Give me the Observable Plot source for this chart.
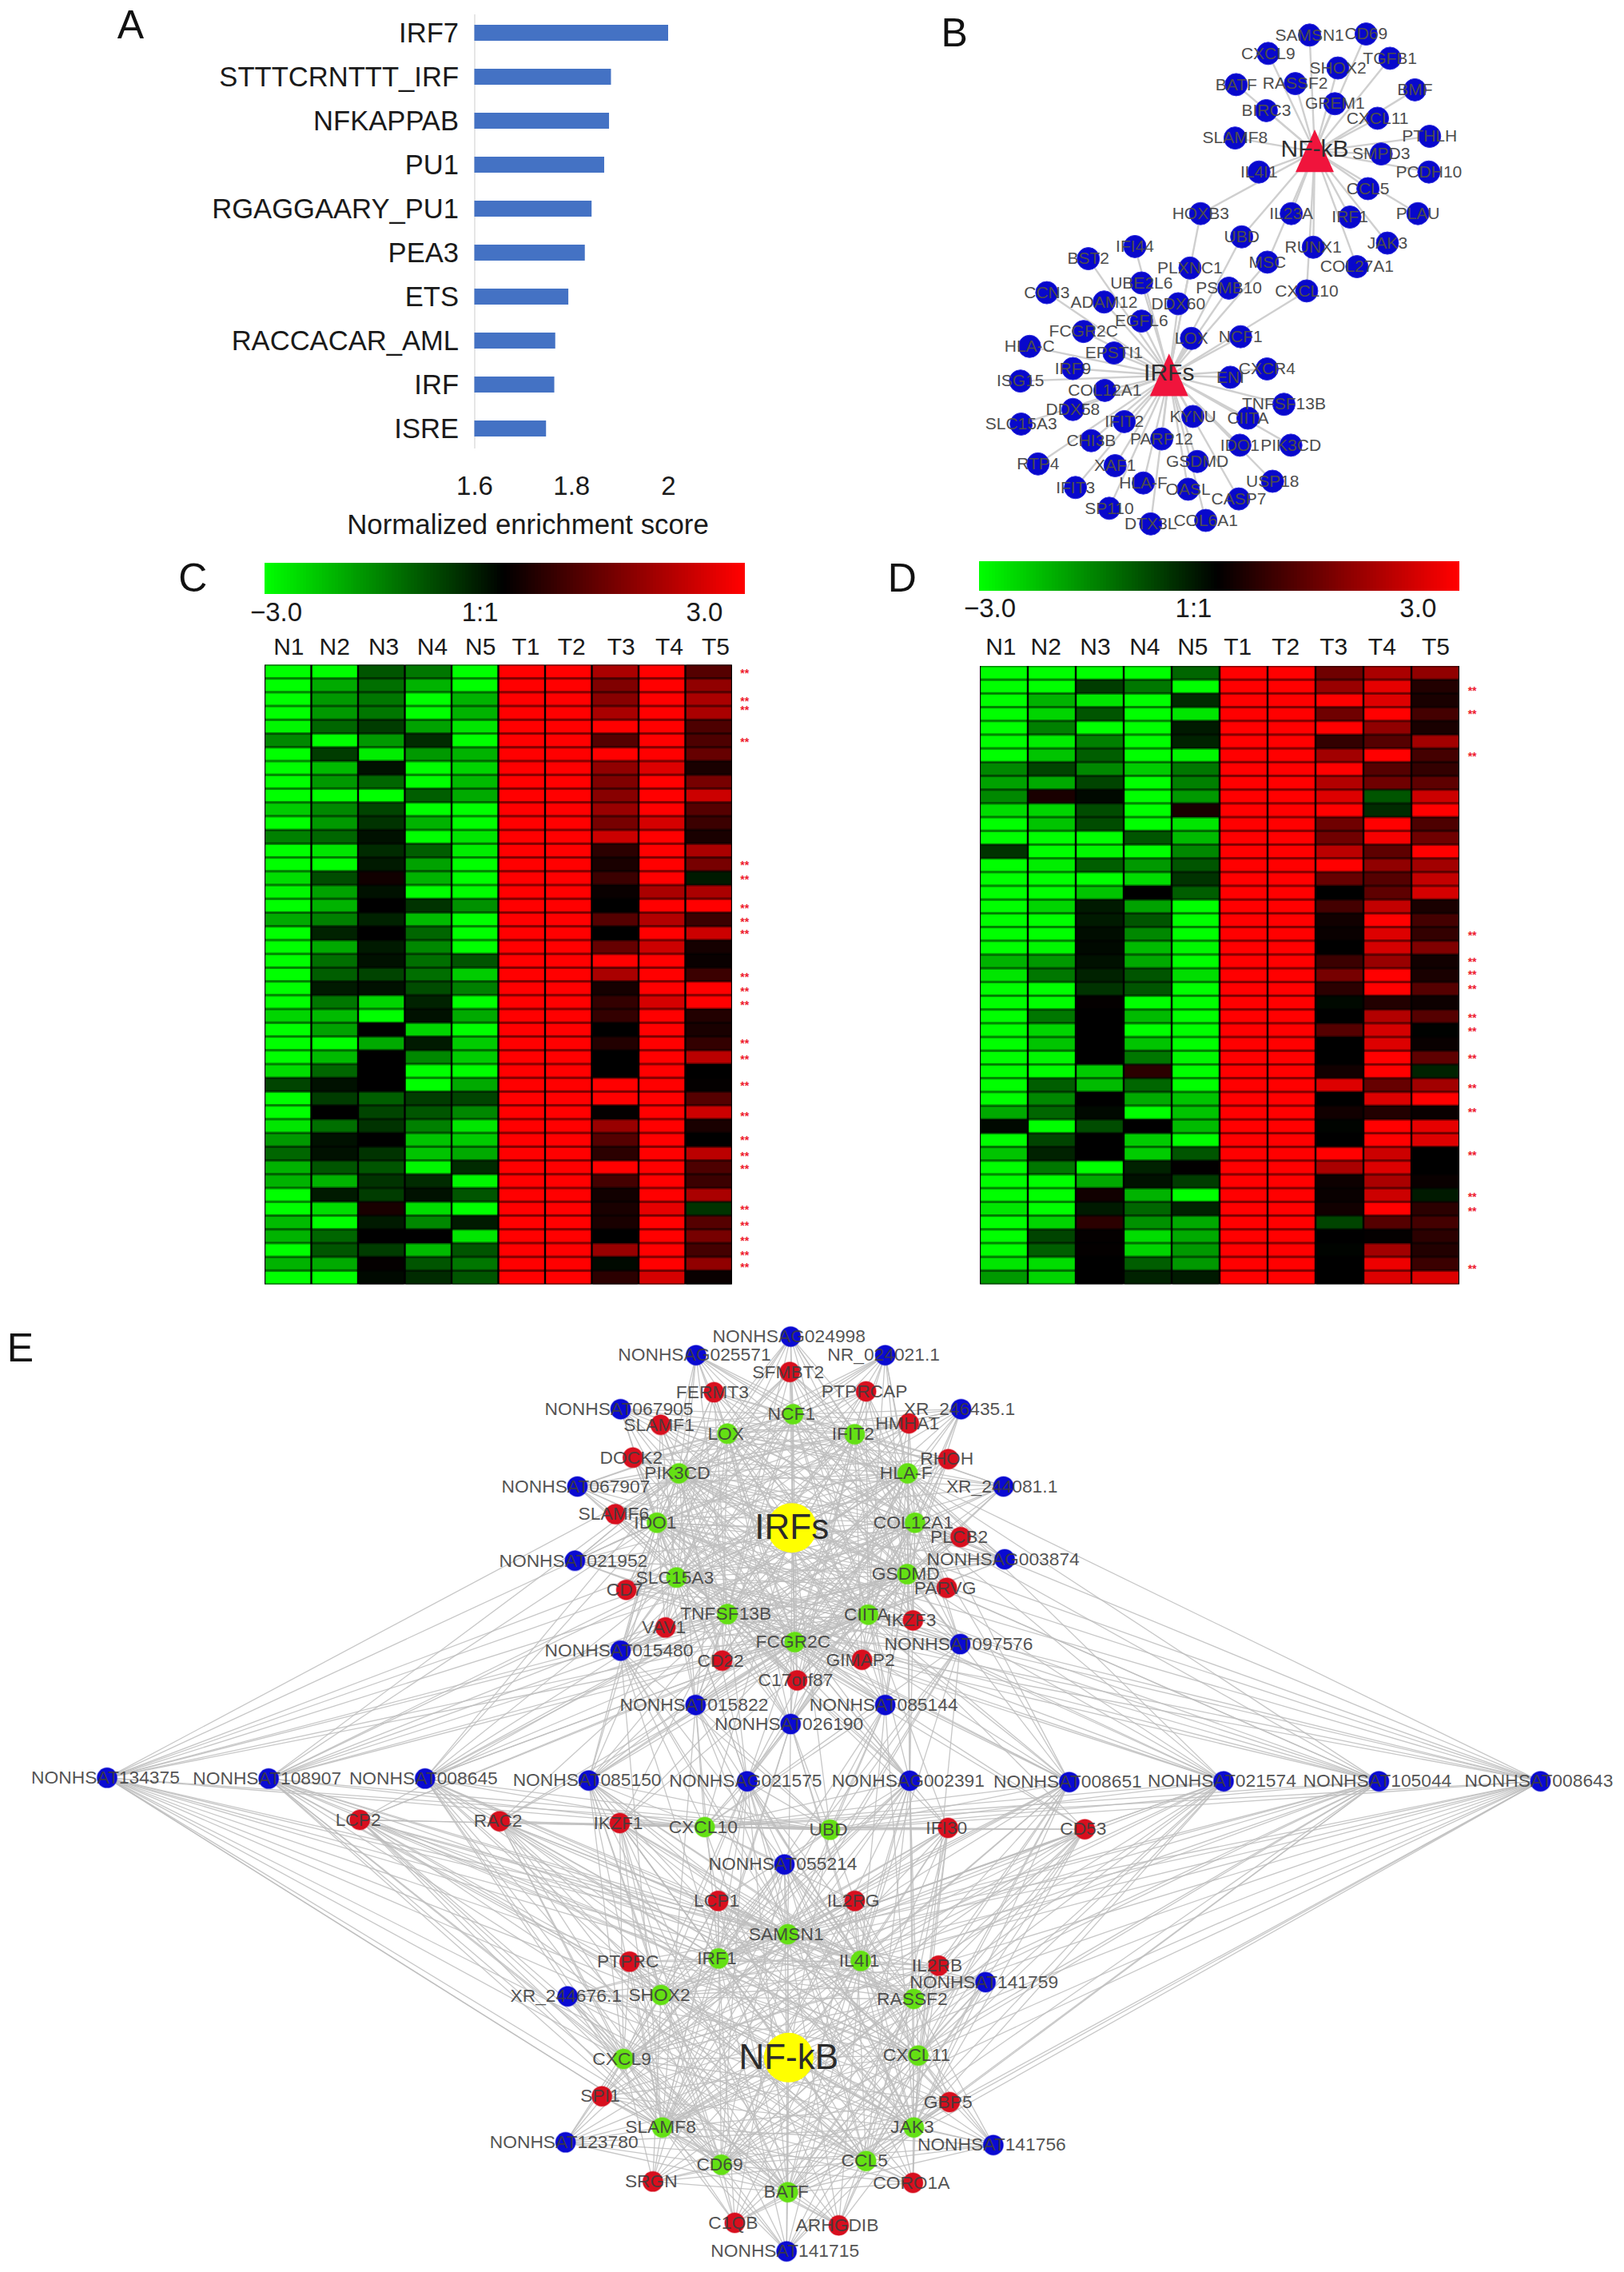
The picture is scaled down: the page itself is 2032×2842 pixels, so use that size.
<!DOCTYPE html>
<html><head><meta charset="utf-8">
<script src="https://cdn.jsdelivr.net/npm/d3@7"></script>
<script src="https://cdn.jsdelivr.net/npm/@observablehq/plot@0.6"></script>
<style>
html,body{margin:0;padding:0;background:#fff}
#page{position:relative;width:2032px;height:2842px;overflow:hidden;font-family:"Liberation Sans",Arial,sans-serif}
#page>div{position:absolute}
</style></head><body><div id="page"></div>
<script>
const FONT='"Liberation Sans",Arial,sans-serif';

// ---------- Panel A ----------
const motifs=["IRF7","STTTCRNTTT_IRF","NFKAPPAB","PU1","RGAGGAARY_PU1","PEA3","ETS","RACCACAR_AML","IRF","ISRE"];
const nes=[2.0,1.882,1.878,1.868,1.842,1.828,1.794,1.767,1.765,1.748];
const nesTicks=[1.6,1.8,2];

// ---------- Panel B (layout, crop units) ----------
const bNfkbOnly=[["SAMSN1",1063,100],["CD69",1217,97],["CXCL9",950,153],["SHOX2",1140,195],["TGFB1",1282,167],["BATF",863,243],["RASSF2",1024,240],["BMF",1350,258],["GREM1",1132,298],["BIRC3",945,318],["CXCL11",1248,340],["SLAMF8",860,397],["PTHLH",1390,392],["SMPD3",1258,443],["IL4I1",925,495],["PCDH10",1388,495],["CCL5",1222,543],["PLAU",1358,615],["IRF1",1173,625],["IL23A",1013,615],["JAK3",1275,700],["RUNX1",1073,712],["COL27A1",1192,768]];
const bShared=[["HOXB3",766,615],["UBD",878,682],["MSC",948,755],["CXCL10",1055,838]];
const bIrfOnly=[["IFI44",587,710],["BST2",460,745],["PLXNC1",737,772],["UBE2L6",605,815],["PSMB10",843,830],["CCN3",347,843],["ADAM12",503,870],["DDX60",705,875],["EGFL6",605,925],["NCF1",875,970],["LOX",741,975],["FCGR2C",447,955],["HLA-C",300,998],["EPSTI1",530,1017],["IRF9",418,1062],["CXCR4",947,1063],["ENI",847,1087],["ISG15",275,1098],["COL12A1",505,1125],["TNFSF13B",993,1165],["DDX58",418,1180],["KYNU",745,1200],["CIITA",895,1205],["IFIT2",558,1215],["SLC15A3",277,1222],["CHI3B",468,1270],["PARP12",660,1265],["PIK3CD",1012,1283],["IDO1",873,1283],["RTP4",323,1337],["XAF1",533,1342],["GSDMD",757,1330],["USP18",962,1387],["HLA-F",610,1392],["IFIT3",425,1405],["OASL",732,1410],["CASP7",870,1438],["SP110",517,1465],["COL6A1",780,1500],["DTX3L",630,1510]];
const bHubs=[["NF-kB",1077,436],["IRFs",680,1082]];

// ---------- Panels C, D: N1..N5,T1..T5 per row ----------
const samples=["N1","N2","N3","N4","N5","T1","T2","T3","T4","T5"];
const cRows=[
[-3,-3,-1,-1.4,-3,3,3,2,3,1],[-3,-2,-1.3,-2.1,-3,3,3,1.5,3,1.7],[-3,-1.8,-1.4,-3,-2.1,3,3,1.6,3,2],[-3,-1.8,-1.4,-3,-2.1,3,3,2,3,2],[-2.9,-1.2,-.7,-1.9,-2.7,3,3,3,3,.9],
[-1.6,-3,-1.8,-.5,-3,3,3,1,3,.9],[-3,-.7,-2.8,-1.8,-2.1,3,3,3,3,1.2],[-3,-2.2,-.2,-3,-2.5,3,3,1.7,2.6,.3],[-3,-1.8,-1.2,-3,-2.2,3,3,1.5,3,1.4],[-3,-3,-3,-1.1,-2,3,3,1.6,3,2.4],
[-2.4,-1.6,-.8,-3,-3,3,3,1.8,3,1],[-3,-1.8,-.6,-2.1,-3,3,3,1.4,2.5,.7],[-1.5,-1.2,-.2,-3,-2.7,3,3,2.4,3,.3],[-3,-2.7,-.5,-1.1,-2.8,3,3,.5,3,2],[-3,-3,-.3,-1.9,-3,3,3,.3,3,1.4],
[-2.6,-.9,.2,-2.1,-3,3,3,.7,3,-.3],[-2.9,-1.9,-.2,-3,-3,3,3,.1,2,2],[-3,-2.1,0,-.6,-1.7,3,3,0,3,3],[-2,-1.5,-.4,-2.2,-3,3,3,1,2.1,.7],[-3,-.4,0,-1.2,-3,3,3,0,3,2.4],
[-3,-2,-.3,-1.6,-3,3,3,1.2,2.4,.25],[-3,-1.3,-.2,-1.3,-1,3,3,3,3,.1],[-3,-1.1,-.8,-1.3,-2.4,3,3,2,3,.7],[-3,-.3,-.2,-.9,-1.5,3,3,.25,3,3],[-3,-1.4,-2.5,-.4,-3,3,3,.6,2.5,3],
[-2.5,-2.2,-3,-.2,-2,3,3,.6,3,.4],[-3,-1.9,0,-2.5,-3,3,3,0,3,.3],[-3,-3,-2,-.3,-2.4,3,3,.4,3,.6],[-3,-2.2,0,-1.6,-2.4,3,3,0,3,2.2],[-2.6,-1.2,0,-3,-3,3,3,0,3,0],
[-.8,-.2,0,-3,-2,3,3,3,3,.05],[-3,-.7,-1.1,-.7,-.8,3,3,3,3,1],[-3,0,-.8,-1,-1.6,3,3,.05,3,2.4],[-2.7,-1.3,-.6,-1.5,-2.7,3,3,1.8,3,.3],[-1.8,-.2,0,-2.3,-2.4,3,3,1,3,0],
[-1.2,-.2,-.6,-2.3,-2,3,3,.5,3,2.2],[-2.1,-1,-1,-2.9,-.5,3,3,3,3,.9],[-2.1,-2.1,-.6,-.5,-2.9,3,3,.8,3,.7],[-3,-.3,-.7,-.2,-1,3,3,.2,3,2],[-3,-2.6,.3,-2.6,-3,3,3,.3,2.7,-.6],
[-2.2,-3,-.3,-1.6,-.3,3,3,.3,3,1],[-2.1,-1.2,0,0,-2.7,3,3,0,3,1.4],[-3,-1,-.7,-2.2,-1,3,3,1.8,3,.8],[-2.1,-2,.05,-1,-1.4,3,3,-.1,3,1.7],[-3,-3,-.1,-.5,-1,3,3,.5,2.5,.1]];
const dRows=[
[-3,-3,-3,-3,-1.2,3,3,1.3,2,1.7],[-3,-3,-.7,-1.4,-3,3,3,1.8,2.7,.4],[-3,-2.1,-2.7,-3,-.5,3,3,3,2.6,.3],[-3,-2.5,-1,-3,-2.7,3,3,1.3,3,.8],[-3,-1.5,-3,-3,-.3,3,3,3,1.7,.3],
[-3,-2.8,-1.5,-3,-.4,3,3,.6,1,1.9],[-3,-2.3,-1.1,-3,-2.9,3,3,1.9,3,.8],[-1.6,-.8,-1.6,-2.4,-1.4,3,3,3,1,.6],[-1.9,-2,-.8,-3,-1.5,3,3,2.1,1.3,1.1],[-1.6,.3,-.1,-3,-1.8,3,3,2.6,-1,2.4],
[-2.6,-2.5,-.9,-3,.3,3,3,3,-.5,3],[-3,-2.3,-.9,-3,-2.7,3,3,1.3,3,.9],[-3,-3,-3,-1,-2.2,3,3,1.3,2.9,1.3],[-.6,-3,-2.9,-3,-1.6,3,3,2.2,1.1,3],[-3,-2.8,-1.1,-1.8,-1,3,3,3,1.7,1.9],
[-3,-3,-3,-2.6,-.6,3,3,1.2,1,2.3],[-3,-3,-2.3,0,-1.1,3,3,0,1.1,2.5],[-3,-2.5,-.3,-1.9,-3,3,3,.8,2.3,.3],[-3,-3,-.3,-1,-3,3,3,.2,3,.8],[-3,-3,-.15,-1.6,-3,3,3,.1,2.6,.6],
[-3,-2.9,-.1,-2.2,-2.9,3,3,0,2.5,1.5],[-2.1,-1.8,-.2,-2,-3,3,3,.7,1.8,.2],[-2.7,-1.4,-.4,-1,-2.6,3,3,1.4,3,.3],[-3,-3,-.6,-1,-3,3,3,.5,3,1],[-3,-3,.05,-3,-3,3,3,-.1,.4,.15],
[-3,-1.4,0,-2.2,-3,3,3,0,2.1,1],[-3,-2.5,0,-3,-3,3,3,1,2.5,-.02],[-3,-2.3,0,-2.3,-3,3,3,0,2.6,.1],[-3,-2.9,0,-1.4,-2.9,3,3,0,3,1.1],[-3,-3,-2.4,.5,-3,3,3,.2,3,-.4],
[-3,-1.1,-2.2,-1.2,-3,3,3,2.6,1.2,1.9],[-3,-1.6,0,-2,-2.3,3,3,0,2.6,3],[-2,-1.2,-.1,-3,-2.3,3,3,.2,.4,.1],[-.1,-3,-.9,0,-2.2,3,3,-.05,3,2.7],[-3,-.8,0,-2.4,-3,3,3,0,3,2.6],
[-2.3,-.4,0,-2.4,-1,3,3,3,2.4,0],[-3,-1.4,-3,-.4,.02,3,3,2,2.6,0],[-3,-3,-2,-.2,-.7,3,3,.15,2,.1],[-3,-3,.2,-2.1,-3,3,3,.1,2.4,-.3],[-2.7,-3,-.3,-1.2,-.4,3,3,.2,3,.5],
[-3,-2.5,.5,-1.7,-2,3,3,-.8,1,.8],[-3,-.8,.05,-2.6,-2,3,3,0,.05,.5],[-3,-1.1,.05,-2.5,-1.8,3,3,-.05,1.9,.4],[-2.7,-2.6,0,-1.1,-1.8,3,3,0,2.8,.7],[-1.8,-2.5,0,-.4,-.3,3,3,0,2.6,2.6]];
const cStars=[.38,2.41,3.06,5.4,14.34,15.34,17.44,18.43,19.29,22.46,23.5,24.5,27.26,28.4,30.36,32.57,34.28,35.42,36.4,39.33,40.5,41.6,42.65,43.54];
const dStars=[1.6,3.28,6.35,19.35,21.27,22.23,23.27,25.37,26.37,28.36,30.46,32.25,35.35,38.4,39.44,43.64];
const cLabelPos=[.51,1.49,2.54,3.58,4.61,5.58,6.56,7.62,8.65,9.64];
const dLabelPos=[.43,1.37,2.4,3.43,4.43,5.37,6.37,7.37,8.38,9.5];
const rampLabels=["−3.0","1:1","3.0"];

// ---------- Panel E (layout, crop units) ----------
const eTopBlue=[["NONHSAG024998",860,88],["NONHSAG025571",628,153],["NR_024021.1",1092,153],["NONHSAT067905",443,342],["XR_246435.1",1278,342],["NONHSAT067907",337,613],["XR_244081.1",1382,613],["NONHSAT021952",331,873],["NONHSAG003874",1385,868],["NONHSAT015480",443,1188],["NONHSAT097576",1276,1165],["NONHSAT015822",627,1378],["NONHSAT085144",1092,1378],["NONHSAT026190",860,1445]];
const eTopRed=[["SFMBT2",858,212],["FERMT3",672,283],["PTPRCAP",1045,280],["SLAMF1",541,397],["HMHA1",1150,392],["DOCK2",473,512],["RHOH",1247,517],["SLAMF6",430,710],["PLCB2",1277,790],["CD7",457,975],["PARVG",1243,968],["VAV1",553,1107],["IKZF3",1160,1082],["CD22",692,1223],["GIMAP2",1035,1220],["C17orf87",876,1292]];
const eTopGreen=[["NCF1",866,360],["LOX",705,428],["IFIT2",1017,430],["PIK3CD",586,567],["HLA-F",1147,567],["IDO1",532,740],["COL12A1",1165,740],["SLC15A3",580,932],["GSDMD",1146,920],["TNFSF13B",705,1060],["CIITA",1050,1062],["FCGR2C",870,1158]];
const eIrfHub=[["IRFs",863,758]];
const eMidBlue=[["NONHSAT134375",103,250],["NONHSAT108907",259,253],["NONHSAT008645",410,253],["NONHSAT085150",568,260],["NONHSAG021575",721,263],["NONHSAG002391",878,261],["NONHSAT008651",1032,266],["NONHSAT021574",1181,263],["NONHSAT105044",1331,263],["NONHSAT008643",1487,263]];
const eCoreBlue=[["NONHSAT055214",757,575]];
const eMidRed=[["LCP2",347,408],["RAC2",482,413],["IKZF1",598,420],["IFI30",915,438],["CD53",1047,443]];
const eCoreRed=[["LCP1",693,712],["IL2RG",825,712]];
const eMidGreen=[["CXCL10",680,435],["UBD",801,445]];
const eBotBlue=[["NONHSAT141759",1338,477],["XR_244676.1",313,530],["NONHSAT123780",308,1078],["NONHSAT141756",1357,1088],["NONHSAT141715",850,1487]];
const eBotRed=[["PTPRC",465,400],["IL2RB",1223,415],["SPI1",397,905],["GBP5",1250,927],["SRGN",522,1225],["CORO1A",1160,1230],["C1QB",723,1380],["ARHGDIB",978,1390]];
const eBotGreen=[["SAMSN1",853,297],["IRF1",683,388],["IL4I1",1032,397],["SHOX2",542,525],["RASSF2",1162,540],["CXCL9",450,765],["CXCL11",1173,752],["SLAMF8",545,1022],["JAK3",1162,1022],["CD69",690,1162],["CCL5",1045,1148],["BATF",853,1265]];
const eNfkbHub=[["NF-kB",855,760]];

// Links between groups of nodes, by name
const eLowerTopGreen=["PIK3CD","HLA-F","IDO1","COL12A1","SLC15A3","GSDMD","TNFSF13B","CIITA","FCGR2C"];
const eInnerTopGreen=["TNFSF13B","CIITA","FCGR2C","UBD","CXCL10"];
const eLowerTopBlue=["NONHSAT015480","NONHSAT097576","NONHSAT015822","NONHSAT085144","NONHSAT026190"];
const eCentreLinks=["CXCL10","UBD","SAMSN1","IRF1","IL4I1","SLAMF8","JAK3"];

const names=a=>a.map(d=>d[0]);
function place(page,top,left,el){const w=document.createElement("div");w.style.left=left+"px";w.style.top=top+"px";w.append(el);page.append(w);}
const page=document.getElementById("page");
const baseStyle={fontFamily:FONT,background:"transparent",overflow:"visible"};

// ---------- draw A ----------
const aData=motifs.map((m,i)=>({m,v:nes[i]}));
place(page,0,0,Plot.plot({
  width:1000,height:680,marginLeft:593.5,marginRight:164,marginTop:18,marginBottom:119,
  style:baseStyle,
  x:{domain:[1.6,2]},
  y:{domain:motifs,range:[12.3,564],paddingInner:.637,paddingOuter:.3185,align:.5},
  marks:[
    Plot.ruleX([1.6],{stroke:"#e6e6e6",strokeWidth:2}),
    Plot.barX(aData,{x1:()=>1.6,x2:"v",y:"m",fill:"#4472c4"}),
    Plot.axisY({tickSize:0,tickPadding:20,fontSize:34.6,label:null,color:"#1a1a1a"}),
    Plot.axisX({ticks:nesTicks,tickSize:0,tickPadding:34,fontSize:33,label:null,tickFormat:d=>String(d),color:"#1a1a1a"}),
    Plot.text(["Normalized enrichment score"],{frameAnchor:"bottom",lineAnchor:"middle",x:()=>1.7097,dy:95,fontSize:34.8,fill:"#1a1a1a"}),
    Plot.text(["A"],{frameAnchor:"top-left",textAnchor:"middle",lineAnchor:"middle",dx:163-593.5,dy:31-18,fontSize:50,fill:"#111"})
  ]
}));

// ---------- draw B ----------
const hubN=bHubs[0],hubI=bHubs[1];
const bEdges=[
  ...bNfkbOnly.map(d=>[d,hubN]),...bShared.map(d=>[d,hubN]),
  ...bShared.map(d=>[d,hubI]),...bIrfOnly.map(d=>[d,hubI])
];
const tallTriangle={draw(ctx,size){const k=Math.sqrt(size/Math.PI);ctx.moveTo(0,-1.45*k);ctx.lineTo(1.26*k,1.35*k);ctx.lineTo(-1.26*k,1.35*k);ctx.closePath();}};
const bNodes=[...bNfkbOnly,...bShared,...bIrfOnly];
place(page,0,1150,Plot.plot({
  width:720,height:680,margin:0,style:baseStyle,
  x:{axis:null,domain:[0,1568],range:[0,720]},
  y:{axis:null,domain:[0,1568],range:[0,680]},
  marks:[
    Plot.link(bEdges,{x1:d=>d[0][1],y1:d=>d[0][2],x2:d=>d[1][1],y2:d=>d[1][2],stroke:"#cfcfcf",strokeWidth:2.4}),
    Plot.dot(bNodes,{x:d=>d[1],y:d=>d[2],r:14,fill:"#0808cc",stroke:"#2a2ae0",strokeWidth:1}),
    Plot.dot(bHubs,{x:d=>d[1],y:d=>d[2],r:19,fill:"#f0143c",symbol:()=>tallTriangle}),
    Plot.text(bNodes,{x:d=>d[1],y:d=>d[2],text:d=>d[0],fontSize:21,fill:"#4d4d4d"}),
    Plot.text(bHubs,{x:d=>d[1],y:d=>d[2],text:d=>d[0],dy:-3,fontSize:30,fill:"#2f2f2f"}),
    Plot.text(["B"],{x:()=>95,y:()=>95,fontSize:50,fill:"#111"})
  ]
}));

// ---------- draw C, D ----------
function heat(o){
  const cells=o.rows.flatMap((row,r)=>row.map((v,c)=>({c,r,v})));
  const ramp=d3.range(0,150).map(i=>({i,v:-3+6*(i+.5)/150}));
  const rw=(o.rampX1-o.rampX0)/150;
  return Plot.plot({
    width:o.w,height:o.h,margin:0,style:baseStyle,
    x:{axis:null,domain:[0,10],range:[o.x0-o.left,o.x1-o.left]},
    y:{axis:null,domain:[0,o.rows.length],range:[o.y0-o.top,o.y1-o.top]},
    color:{type:"linear",domain:[-3,0,3],range:["#00ff00","#000000","#ff0000"],clamp:true},
    marks:[
      Plot.rect(ramp,{x1:d=>o.rampX0+d.i*rw,x2:d=>o.rampX0+(d.i+2)*rw,y1:()=>o.rampY0,y2:()=>o.rampY1,fill:"v",shapeRendering:"crispEdges"}),
      Plot.rect([0],{x1:()=>0,x2:()=>10,y1:()=>0,y2:()=>o.rows.length,fill:"#000"}),
      Plot.rect(cells,{x1:"c",x2:d=>d.c+1,y1:"r",y2:d=>d.r+1,fill:"v",fillOpacity:.55,insetLeft:1.3,insetRight:1.3}),
      Plot.rect(cells,{x1:"c",x2:d=>d.c+1,y1:"r",y2:d=>d.r+1,fill:"v",insetLeft:1.3,insetRight:1.3,insetTop:1.6,insetBottom:1.6}),
      Plot.text(o.stars,{x:()=>10.26,y:d=>d,text:()=>"**",dy:4,fontSize:14,fontWeight:"bold",fill:"#ee1c2e"}),
      Plot.text(samples,{x:(d,i)=>o.labelPos[i],y:()=>o.labelY,text:d=>d,fontSize:30,fill:"#1a1a1a"}),
      Plot.text(rampLabels,{x:(d,i)=>o.rampLabelX[i],y:()=>o.rampLabelY,text:d=>d,fontSize:33,fill:"#1a1a1a"}),
      Plot.text([o.letter],{x:()=>o.letterX,y:()=>o.letterY,fontSize:50,fill:"#111"})
    ]
  });
}
place(page,680,200,heat({rows:cRows,stars:cStars,labelPos:cLabelPos,letter:"C",
  left:200,top:680,w:760,h:960,x0:331,x1:916,y0:831.4,y1:1606.6,
  rampX0:0,rampX1:10.21,rampY0:-7.38,rampY1:-5.14,labelY:-1.33,rampLabelY:-3.8,
  rampLabelX:[.24,4.6,9.4],letterX:-1.54,letterY:-6.24}));
place(page,680,1100,heat({rows:dRows,stars:dStars,labelPos:dLabelPos,letter:"D",
  left:1100,top:680,w:800,h:960,x0:1226,x1:1826,y0:833,y1:1606.5,
  rampX0:-.023,rampX1:9.93,rampY0:-7.65,rampY1:-5.44,labelY:-1.42,rampLabelY:-4.2,
  rampLabelX:[.2,4.45,9.13],letterX:-1.63,letterY:-6.37}));

// ---------- draw E ----------
const topMap=d=>({name:d[0],x:550+d[1]/1.96,y:1640+d[2]/2.8});
const midMap=d=>({name:d[0],x:d[1]*2032/1568,y:2140+d[2]/3});
const botMap=d=>({name:d[0],x:550+d[1]/1.96,y:2320+d[2]/3});
const groups=[
  [eTopBlue,topMap,"#0a0ad2"],[eTopRed,topMap,"#d80f1e"],[eTopGreen,topMap,"#64e014"],
  [eMidBlue,midMap,"#0a0ad2"],[eCoreBlue,midMap,"#0a0ad2"],[eMidRed,midMap,"#d80f1e"],[eCoreRed,midMap,"#d80f1e"],[eMidGreen,midMap,"#64e014"],
  [eBotBlue,botMap,"#0a0ad2"],[eBotRed,botMap,"#d80f1e"],[eBotGreen,botMap,"#64e014"]
];
const eNodes=groups.flatMap(([a,f,color])=>a.map(d=>({...f(d),color})));
const eHubs=[topMap(eIrfHub[0]),botMap(eNfkbHub[0])];
const nodeAt=new Map([...eNodes,...eHubs].map(d=>[d.name,d]));
const cross=(a,b)=>a.flatMap(p=>b.map(q=>({a:nodeAt.get(p),b:nodeAt.get(q)})));
const tg=names(eTopGreen),bg=names(eBotGreen),mg=names(eMidGreen);
const eEdges=[
  ...cross(["IRFs"],[...tg,...mg]),
  ...cross(["NF-kB"],[...bg,...mg]),
  ...cross([...names(eTopBlue),...names(eTopRed)],tg),
  ...cross([...names(eBotBlue),...names(eBotRed)],bg),
  ...cross(names(eMidBlue),eLowerTopGreen),
  ...cross(names(eMidBlue),[...bg,...mg]),
  ...cross(names(eMidRed),[...bg,...eInnerTopGreen]),
  ...cross([...names(eCoreBlue),...names(eCoreRed)],[...bg,...mg]),
  ...cross(eLowerTopBlue,eCentreLinks)
];
place(page,1640,0,Plot.plot({
  width:2032,height:1202,margin:0,style:baseStyle,
  x:{axis:null,domain:[0,2032],range:[0,2032]},
  y:{axis:null,domain:[1640,2842],range:[0,1202]},
  marks:[
    Plot.link(eEdges,{x1:d=>d.a.x,y1:d=>d.a.y,x2:d=>d.b.x,y2:d=>d.b.y,stroke:"#bdbdbd",strokeWidth:1.3,strokeOpacity:.85}),
    Plot.dot(eNodes,{x:"x",y:"y",r:12.5,fill:"color",stroke:"color",strokeOpacity:.4,strokeWidth:1.5}),
    Plot.dot(eHubs,{x:"x",y:"y",r:31,fill:"#ffff00"}),
    Plot.text(eNodes,{x:"x",y:"y",text:"name",dx:-2,fontSize:22.8,fill:"#3d3d3d",fillOpacity:.9}),
    Plot.text(eHubs,{x:"x",y:"y",text:"name",fontSize:44,fill:"#2b2b2b"}),
    Plot.text(["E"],{x:()=>25,y:()=>1686,fontSize:50,fill:"#111"})
  ]
}));
</script></body></html>
